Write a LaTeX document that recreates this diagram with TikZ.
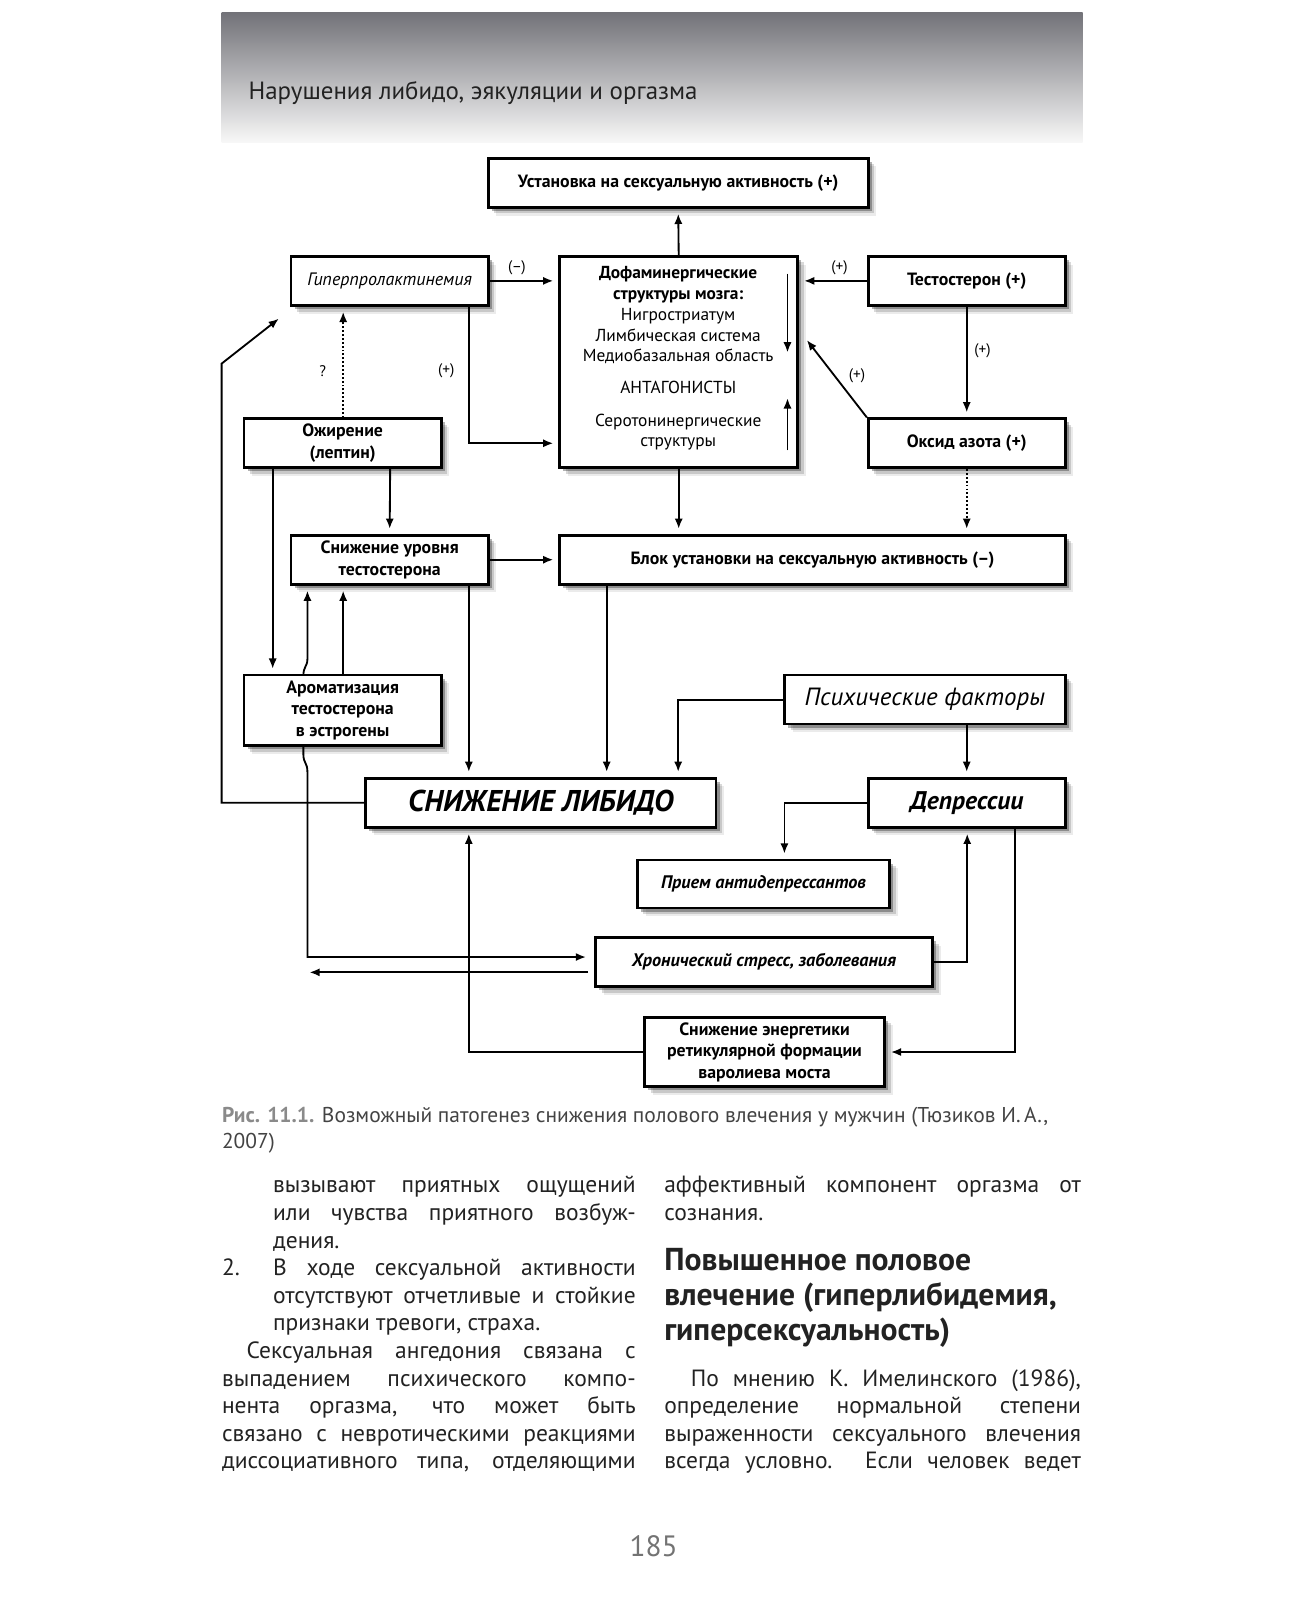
\documentclass[tikz,border=0pt]{standalone}
\usepackage{fontspec}
\setmainfont{PT Sans}
\usetikzlibrary{arrows.meta,shadows,calc}
\definecolor{hdrtop}{HTML}{727278}
\definecolor{hdrbot}{HTML}{F8F8F8}
\definecolor{capgray}{HTML}{8A8A8A}
\definecolor{txt}{HTML}{222222}
\pgfdeclarelayer{bg}
\pgfsetlayers{bg,main}
\newcommand\bx[7]{\node[box,#6,minimum width={(#4-#2)*0.5pt},minimum height={(#5-#3)*0.5pt}] (#1) at ({(#2+#4)/2},{(#3+#5)/2}) {#7};}
\newcommand\jl[2]{\hbox to #1{\spaceskip=\fontdimen2\font plus 1fil minus \fontdimen4\font\relax #2}}
\newcommand\lastl[2]{\hbox to #1{#2\hfill}}
\tikzset{
  box/.style={draw, line width=1.3pt, fill=white, inner sep=1pt, align=center,
    drop shadow={shadow xshift=4pt, shadow yshift=-4pt, opacity=0.08, fill=black},
    drop shadow={shadow xshift=3pt, shadow yshift=-3pt, opacity=0.15, fill=black},
    drop shadow={shadow xshift=1.8pt, shadow yshift=-1.8pt, opacity=0.3, fill=black}},
  bsmall/.style={font=\fontsize{8.7}{10.5}\selectfont\bfseries},
  arr/.style={line width=0.9pt, -{Latex[length=5pt,width=4pt]}, shorten >=2.5pt},
  darr/.style={arr, densely dotted},
  lbl/.style={font=\fontsize{7.5}{8}\selectfont},
  body/.style={anchor=base west, inner sep=0, font=\fontsize{11.5}{13.5}\selectfont, text=txt},
  captxt/.style={anchor=base west, inner sep=0, font=\fontsize{10.5}{12.5}\selectfont, text=txt!85!white},
  hdg/.style={anchor=base west, inner sep=0, font=\fontsize{15.5}{17}\selectfont\bfseries, text=txt},
}
\begin{document}
\begin{tikzpicture}[x=0.5pt,y=-0.5pt]
\useasboundingbox (0,0) rectangle (1271,1567.5);
% header
\shade[top color=hdrtop, bottom color=hdrbot] (217,12) rectangle (1060,140);
\node[anchor=base west, inner sep=0, font=\fontsize{12.2}{14}\selectfont, text=txt] (title) at (243,97) {Нарушения либидо, эякуляции и оргазма};

% boxes
\bx{ust}{478}{155}{850}{203}{bsmall}{Установка на сексуальную активность (+)}
\bx{hyp}{285}{251}{478}{299}{font=\fontsize{8.8}{10}\selectfont\itshape}{Гиперпролактинемия}
\bx{dop}{548}{251}{781}{458}{font=\fontsize{8.5}{10}\selectfont}{}
\bx{tes}{850}{251}{1043}{299}{bsmall}{Тестостерон (+)}
\bx{obz}{239}{410}{432}{458}{bsmall}{Ожирение\\(лептин)}
\bx{oks}{850}{410}{1043}{458}{bsmall}{Оксид азота (+)}
\bx{snt}{285}{524}{478}{572}{bsmall}{Снижение уровня\\тестостерона}
\bx{blk}{548}{524}{1043}{572}{bsmall}{Блок установки на сексуальную активность (--)}
\bx{aro}{239}{661}{432}{730}{bsmall}{Ароматизация\\тестостерона\\в эстрогены}
\bx{psy}{768}{661}{1043}{709}{font=\fontsize{12.2}{14}\selectfont\itshape}{Психические факторы}
\bx{lib}{358}{762}{701}{810}{font=\fontsize{14.7}{17}\selectfont\bfseries\itshape}{СНИЖЕНИЕ ЛИБИДО}
\bx{dep}{850}{762}{1043}{810}{font=\fontsize{12.5}{14}\selectfont\bfseries\itshape}{Депрессии}
\bx{pri}{624}{842}{871}{889}{font=\fontsize{8.9}{10}\selectfont\bfseries\itshape}{Прием антидепрессантов}
\bx{chr}{583}{918}{913}{966}{font=\fontsize{8.9}{10}\selectfont\bfseries\itshape}{Хронический стресс, заболевания}
\bx{ene}{631}{996}{866}{1064}{bsmall}{Снижение энергетики\\ретикулярной формации\\варолиева моста}

% dopamine box text
\node[align=center, inner sep=0, font=\fontsize{8.5}{10.2}\selectfont] (doptxt) at (664,351)
  {\textbf{Дофаминергические}\\ \textbf{структуры мозга:}\\ Нигростриатум\\ Лимбическая система\\ Медиобазальная область\\[5pt] АНТАГОНИСТЫ\\[6pt] Серотонинергические\\ структуры};

% helper coordinates
\foreach \xx in {217,267,301,336,382,459,594,664,768,947,994}{\coordinate (X\xx) at (\xx,0);}
\foreach \yy in {356,434,937,952}{\coordinate (Y\yy) at (0,\yy);}
\coordinate (c2) at (273,312);
\coordinate (c1) at (790,333);
\coordinate (da1) at (771,268); \coordinate (da2) at (771,345);
\coordinate (ua1) at (771,441); \coordinate (ua2) at (771,390);

\begin{pgfonlayer}{bg}
\draw[arr] (dop.north) -- (ust.south);
\draw[arr] (hyp.east) -- (hyp.east -| dop.west);
\draw[arr] (tes.west) -- (tes.west -| dop.east);
\draw[arr] (tes.south) -- (oks.north);
\draw[arr, shorten >=0pt] (oks.north west) -- (c1);
\draw[arr] (X459 |- hyp.south) -- (X459 |- Y434) -- (dop.west |- Y434);
\draw[darr] (X336 |- obz.north) -- (X336 |- hyp.south);
\draw[arr, shorten >=0pt] (lib.west) -| (X217 |- Y356) -- (c2);
\draw[arr] (X382 |- obz.south) -- (snt.north);
\draw[arr] (X267 |- obz.south) -- (X267 |- aro.north);
\draw[arr] (X336 |- aro.north) -- (X336 |- snt.south);
\draw[line width=0.9pt, {Latex[length=5pt,width=4pt]}-{Latex[length=5pt,width=4pt]}, shorten <=2.5pt, shorten >=4pt]
  (X301 |- snt.south) -- (301,645) .. controls (301,653) and (297,652) .. (297,662) -- (297,738)
  .. controls (297,748) and (301,746) .. (301,756) -- (X301 |- Y937) -- (chr.west |- Y937);
\draw[arr] (snt.east) -- (snt.east -| blk.west);
\draw[arr] (dop.south) -- (dop.south |- blk.north);
\draw[darr] (oks.south) -- (oks.south |- blk.north);
\draw[arr] (X459 |- snt.south) -- (X459 |- lib.north);
\draw[arr] (X594 |- blk.south) -- (X594 |- lib.north);
\draw[arr] (psy.west) -| (X664 |- lib.north);
\draw[arr] (dep.north |- psy.south) -- (dep.north);
\draw[arr] (dep.west) -| (X768 |- pri.north);
\draw[arr] (chr.east) -| (X947 |- dep.south);
\draw[arr] (X994 |- dep.south) |- (ene.east);
\draw[arr] (ene.west) -| (X459 |- lib.south);
\draw[arr, shorten >=0pt] ([xshift=-3pt]chr.west |- Y952) -- (303,952);
\end{pgfonlayer}
\draw[arr, shorten >=0pt, line width=0.8pt] (da1) -- (da2);
\draw[arr, shorten >=0pt, line width=0.8pt] (ua1) -- (ua2);

% labels
\node[lbl] (l1) at (506,262) {(--)};
\node[lbl] (l2) at (822,262) {(+)};
\node[lbl] (l3) at (962,343) {(+)};
\node[lbl] (l4) at (839,368) {(+)};
\node[lbl] (l5) at (437,363) {(+)};
\node[lbl] (l6) at (316,363) {?};

% caption
\node[captxt] (cap1) at (217,1099)
  {{\color{capgray}\bfseries Рис. 11.1.} Возможный патогенез снижения полового влечения у мужчин (Тюзиков И.\,А.,};
\node[captxt] (cap2) at (217,1124) {2007)};

% left column
\node[body] (a1) at (267,1168) {\jl{177.5pt}{вызывают приятных ощущений}};
\node[body] (a2) at (267,1195) {\jl{177.5pt}{или чувства приятного возбуж-}};
\node[body] (a3) at (267,1222) {\lastl{177.5pt}{дения.}};
\node[body] (a4n) at (217,1249) {2.};
\node[body] (a4) at (267,1249) {\jl{177.5pt}{В ходе сексуальной активности}};
\node[body] (a5) at (267,1276) {\jl{177.5pt}{отсутствуют отчетливые и стойкие}};
\node[body] (a6) at (267,1303) {\lastl{177.5pt}{признаки тревоги, страха.}};
\node[body] (a7) at (217,1330) {\jl{202.5pt}{\hspace*{12pt}Сексуальная ангедония связана с}};
\node[body] (a8) at (217,1357) {\jl{202.5pt}{выпадением психического компо-}};
\node[body] (a9) at (217,1384) {\jl{202.5pt}{нента оргазма, что может быть}};
\node[body] (a10) at (217,1411) {\jl{202.5pt}{связано с невротическими реакциями}};
\node[body] (a11) at (217,1438) {\jl{202.5pt}{диссоциативного типа, отделяющими}};
% right column
\node[body] (b1) at (650,1168) {\jl{204pt}{аффективный компонент оргазма от}};
\node[body] (b2) at (650,1195) {\lastl{204pt}{сознания.}};
\node[hdg] (hd1) at (650,1244) {Повышенное половое};
\node[hdg] (hd2) at (650,1278) {влечение (гиперлибидемия,};
\node[hdg] (hd3) at (650,1312) {гиперсексуальность)};
\node[body] (b3) at (650,1357) {\jl{204pt}{\hspace*{13pt}По мнению К. Имелинского (1986),}};
\node[body] (b4) at (650,1384) {\jl{204pt}{определение нормальной степени}};
\node[body] (b5) at (650,1411) {\jl{204pt}{выраженности сексуального влечения}};
\node[body] (b6) at (650,1438) {\jl{204pt}{всегда условно. Если человек ведет}};
% page number
\node[anchor=base, inner sep=0, font=\fontsize{14.4}{16}\selectfont, text=black!55] (pg) at (640,1524) {185};
\end{tikzpicture}
\end{document}
